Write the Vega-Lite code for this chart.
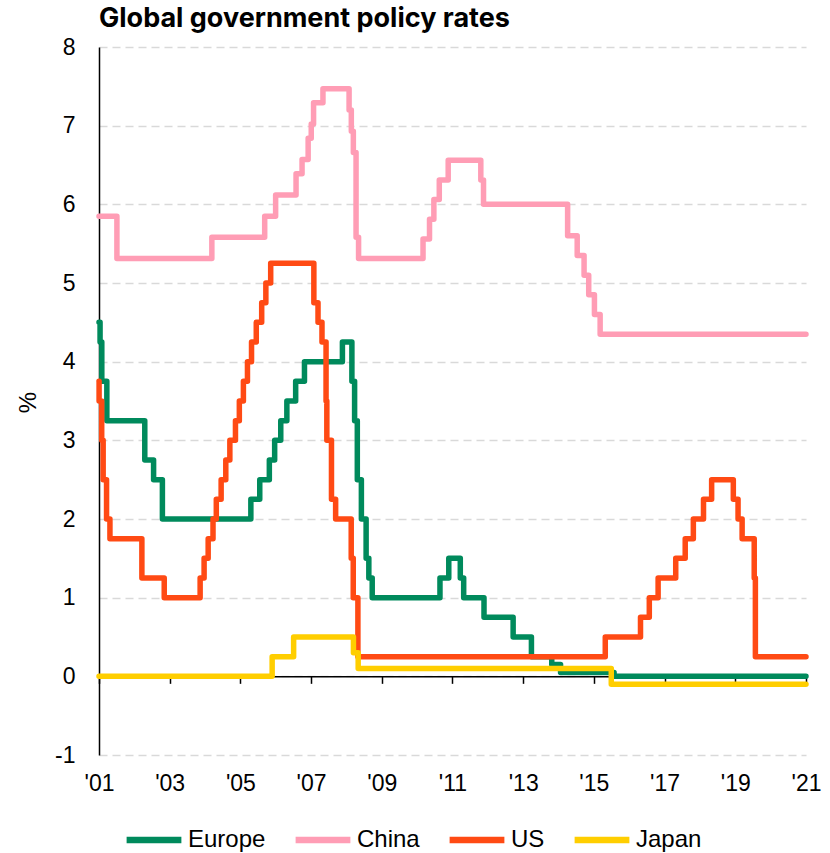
{
  "$schema": "https://vega.github.io/schema/vega-lite/v6.json",
  "autosize": {"type": "none"},
  "padding": {"left": 99, "top": 47, "right": 24, "bottom": 98},
  "width": 707,
  "height": 708,
  "background": "white",
  "config": {"view": {"stroke": null}, "font": "Liberation Sans"},
  "title": {
    "text": "Global government policy rates",
    "anchor": "start",
    "frame": "group",
    "font": "Inter",
    "fontSize": 27,
    "fontWeight": "bold",
    "color": "#000000",
    "offset": 3
  },
  "data": {
    "values": [
      {"region": "Europe", "date": "2001-08-20", "rate": 4.50},
      {"region": "Europe", "date": "2001-08-31", "rate": 4.25},
      {"region": "Europe", "date": "2001-09-18", "rate": 3.75},
      {"region": "Europe", "date": "2001-11-09", "rate": 3.25},
      {"region": "Europe", "date": "2002-12-06", "rate": 2.75},
      {"region": "Europe", "date": "2003-03-07", "rate": 2.50},
      {"region": "Europe", "date": "2003-06-06", "rate": 2.00},
      {"region": "Europe", "date": "2005-12-06", "rate": 2.25},
      {"region": "Europe", "date": "2006-03-08", "rate": 2.50},
      {"region": "Europe", "date": "2006-06-15", "rate": 2.75},
      {"region": "Europe", "date": "2006-08-09", "rate": 3.00},
      {"region": "Europe", "date": "2006-10-11", "rate": 3.25},
      {"region": "Europe", "date": "2006-12-13", "rate": 3.50},
      {"region": "Europe", "date": "2007-03-14", "rate": 3.75},
      {"region": "Europe", "date": "2007-06-13", "rate": 4.00},
      {"region": "Europe", "date": "2008-07-09", "rate": 4.25},
      {"region": "Europe", "date": "2008-10-15", "rate": 3.75},
      {"region": "Europe", "date": "2008-11-12", "rate": 3.25},
      {"region": "Europe", "date": "2008-12-10", "rate": 2.50},
      {"region": "Europe", "date": "2009-01-21", "rate": 2.00},
      {"region": "Europe", "date": "2009-03-11", "rate": 1.50},
      {"region": "Europe", "date": "2009-04-08", "rate": 1.25},
      {"region": "Europe", "date": "2009-05-13", "rate": 1.00},
      {"region": "Europe", "date": "2011-04-13", "rate": 1.25},
      {"region": "Europe", "date": "2011-07-13", "rate": 1.50},
      {"region": "Europe", "date": "2011-11-09", "rate": 1.25},
      {"region": "Europe", "date": "2011-12-14", "rate": 1.00},
      {"region": "Europe", "date": "2012-07-11", "rate": 0.75},
      {"region": "Europe", "date": "2013-05-08", "rate": 0.50},
      {"region": "Europe", "date": "2013-11-13", "rate": 0.25},
      {"region": "Europe", "date": "2014-06-11", "rate": 0.15},
      {"region": "Europe", "date": "2014-09-10", "rate": 0.05},
      {"region": "Europe", "date": "2016-03-16", "rate": 0.00},
      {"region": "Europe", "date": "2021-08-20", "rate": 0.00},

      {"region": "China", "date": "2001-08-20", "rate": 5.85},
      {"region": "China", "date": "2002-02-21", "rate": 5.31},
      {"region": "China", "date": "2004-10-29", "rate": 5.58},
      {"region": "China", "date": "2006-04-28", "rate": 5.85},
      {"region": "China", "date": "2006-08-19", "rate": 6.12},
      {"region": "China", "date": "2007-03-18", "rate": 6.39},
      {"region": "China", "date": "2007-05-19", "rate": 6.57},
      {"region": "China", "date": "2007-07-21", "rate": 6.84},
      {"region": "China", "date": "2007-08-22", "rate": 7.02},
      {"region": "China", "date": "2007-09-15", "rate": 7.29},
      {"region": "China", "date": "2007-12-21", "rate": 7.47},
      {"region": "China", "date": "2008-09-16", "rate": 7.20},
      {"region": "China", "date": "2008-10-09", "rate": 6.93},
      {"region": "China", "date": "2008-10-30", "rate": 6.66},
      {"region": "China", "date": "2008-11-27", "rate": 5.58},
      {"region": "China", "date": "2008-12-23", "rate": 5.31},
      {"region": "China", "date": "2010-10-20", "rate": 5.56},
      {"region": "China", "date": "2010-12-26", "rate": 5.81},
      {"region": "China", "date": "2011-02-09", "rate": 6.06},
      {"region": "China", "date": "2011-04-06", "rate": 6.31},
      {"region": "China", "date": "2011-07-07", "rate": 6.56},
      {"region": "China", "date": "2012-06-08", "rate": 6.31},
      {"region": "China", "date": "2012-07-06", "rate": 6.00},
      {"region": "China", "date": "2014-11-22", "rate": 5.60},
      {"region": "China", "date": "2015-03-01", "rate": 5.35},
      {"region": "China", "date": "2015-05-11", "rate": 5.10},
      {"region": "China", "date": "2015-06-28", "rate": 4.85},
      {"region": "China", "date": "2015-08-26", "rate": 4.60},
      {"region": "China", "date": "2015-10-24", "rate": 4.35},
      {"region": "China", "date": "2021-08-20", "rate": 4.35},

      {"region": "US", "date": "2001-08-20", "rate": 3.75},
      {"region": "US", "date": "2001-08-21", "rate": 3.50},
      {"region": "US", "date": "2001-09-17", "rate": 3.00},
      {"region": "US", "date": "2001-10-02", "rate": 2.50},
      {"region": "US", "date": "2001-11-06", "rate": 2.00},
      {"region": "US", "date": "2001-12-11", "rate": 1.75},
      {"region": "US", "date": "2002-11-06", "rate": 1.25},
      {"region": "US", "date": "2003-06-25", "rate": 1.00},
      {"region": "US", "date": "2004-06-30", "rate": 1.25},
      {"region": "US", "date": "2004-08-10", "rate": 1.50},
      {"region": "US", "date": "2004-09-21", "rate": 1.75},
      {"region": "US", "date": "2004-11-10", "rate": 2.00},
      {"region": "US", "date": "2004-12-14", "rate": 2.25},
      {"region": "US", "date": "2005-02-02", "rate": 2.50},
      {"region": "US", "date": "2005-03-22", "rate": 2.75},
      {"region": "US", "date": "2005-05-03", "rate": 3.00},
      {"region": "US", "date": "2005-06-30", "rate": 3.25},
      {"region": "US", "date": "2005-08-09", "rate": 3.50},
      {"region": "US", "date": "2005-09-20", "rate": 3.75},
      {"region": "US", "date": "2005-11-01", "rate": 4.00},
      {"region": "US", "date": "2005-12-13", "rate": 4.25},
      {"region": "US", "date": "2006-01-31", "rate": 4.50},
      {"region": "US", "date": "2006-03-28", "rate": 4.75},
      {"region": "US", "date": "2006-05-10", "rate": 5.00},
      {"region": "US", "date": "2006-06-29", "rate": 5.25},
      {"region": "US", "date": "2007-09-18", "rate": 4.75},
      {"region": "US", "date": "2007-10-31", "rate": 4.50},
      {"region": "US", "date": "2007-12-11", "rate": 4.25},
      {"region": "US", "date": "2008-01-22", "rate": 3.50},
      {"region": "US", "date": "2008-01-30", "rate": 3.00},
      {"region": "US", "date": "2008-03-18", "rate": 2.25},
      {"region": "US", "date": "2008-04-30", "rate": 2.00},
      {"region": "US", "date": "2008-10-08", "rate": 1.50},
      {"region": "US", "date": "2008-10-29", "rate": 1.00},
      {"region": "US", "date": "2008-12-16", "rate": 0.25},
      {"region": "US", "date": "2015-12-16", "rate": 0.50},
      {"region": "US", "date": "2016-12-14", "rate": 0.75},
      {"region": "US", "date": "2017-03-15", "rate": 1.00},
      {"region": "US", "date": "2017-06-14", "rate": 1.25},
      {"region": "US", "date": "2017-12-13", "rate": 1.50},
      {"region": "US", "date": "2018-03-21", "rate": 1.75},
      {"region": "US", "date": "2018-06-13", "rate": 2.00},
      {"region": "US", "date": "2018-09-26", "rate": 2.25},
      {"region": "US", "date": "2018-12-19", "rate": 2.50},
      {"region": "US", "date": "2019-07-31", "rate": 2.25},
      {"region": "US", "date": "2019-09-18", "rate": 2.00},
      {"region": "US", "date": "2019-10-30", "rate": 1.75},
      {"region": "US", "date": "2020-03-03", "rate": 1.25},
      {"region": "US", "date": "2020-03-15", "rate": 0.25},
      {"region": "US", "date": "2021-08-20", "rate": 0.25},

      {"region": "Japan", "date": "2001-08-20", "rate": 0.00},
      {"region": "Japan", "date": "2006-07-14", "rate": 0.25},
      {"region": "Japan", "date": "2007-02-21", "rate": 0.50},
      {"region": "Japan", "date": "2008-10-31", "rate": 0.30},
      {"region": "Japan", "date": "2008-12-19", "rate": 0.10},
      {"region": "Japan", "date": "2016-02-16", "rate": -0.10},
      {"region": "Japan", "date": "2021-08-20", "rate": -0.10}
    ]
  },
  "mark": {
    "type": "line",
    "interpolate": "step-after",
    "strokeWidth": 5.5,
    "strokeJoin": "round",
    "strokeCap": "round"
  },
  "encoding": {
    "x": {
      "field": "date",
      "type": "temporal",
      "scale": {
        "domain": [
          {"year": 2001, "month": 8, "date": 20},
          {"year": 2021, "month": 8, "date": 20}
        ]
      },
      "axis": {
        "title": null,
        "values": [
          {"year": 2001, "month": 8, "date": 20},
          {"year": 2003, "month": 8, "date": 20},
          {"year": 2005, "month": 8, "date": 20},
          {"year": 2007, "month": 8, "date": 20},
          {"year": 2009, "month": 8, "date": 20},
          {"year": 2011, "month": 8, "date": 20},
          {"year": 2013, "month": 8, "date": 20},
          {"year": 2015, "month": 8, "date": 20},
          {"year": 2017, "month": 8, "date": 20},
          {"year": 2019, "month": 8, "date": 20},
          {"year": 2021, "month": 8, "date": 20}
        ],
        "labelExpr": "\"'\" + timeFormat(datum.value, '%y')",
        "offset": -78.667,
        "grid": false,
        "domainColor": "#000000",
        "domainWidth": 1.5,
        "tickColor": "#000000",
        "tickSize": 7,
        "tickWidth": 1.5,
        "labelFontSize": 23,
        "labelColor": "#000000",
        "labelBaseline": "top",
        "labelPadding": 89,
        "labelFlush": false,
        "labelOverlap": false
      }
    },
    "y": {
      "field": "rate",
      "type": "quantitative",
      "scale": {"domain": [-1, 8], "nice": false, "zero": false},
      "axis": {
        "title": "%",
        "values": [-1, 0, 1, 2, 3, 4, 5, 6, 7, 8],
        "labelExpr": "'' + datum.value",
        "grid": true,
        "gridColor": "#d9d9d9",
        "gridDash": [8, 5],
        "gridWidth": 1.5,
        "domainColor": "#000000",
        "domainWidth": 1.5,
        "ticks": false,
        "labelPadding": 24,
        "labelFontSize": 23,
        "labelColor": "#000000",
        "titleFontSize": 24,
        "titleFontWeight": "normal",
        "titleColor": "#000000",
        "titleAngle": -90,
        "titleAlign": "center",
        "titleBaseline": "middle",
        "titleX": -71,
        "titleY": 355
      }
    },
    "color": {
      "field": "region",
      "type": "nominal",
      "scale": {
        "domain": ["Europe", "China", "US", "Japan"],
        "range": ["#008A5C", "#FF9DB5", "#FF4A14", "#FFCE00"]
      },
      "legend": {
        "orient": "none",
        "legendX": 24,
        "legendY": 762,
        "direction": "horizontal",
        "columns": 4,
        "gridAlign": "none",
        "title": null,
        "padding": 0,
        "symbolType": "stroke",
        "symbolSize": 3000,
        "symbolStrokeWidth": 6.5,
        "labelFontSize": 24,
        "labelColor": "#000000",
        "labelOffset": 3,
        "columnPadding": 16
      }
    }
  }
}
